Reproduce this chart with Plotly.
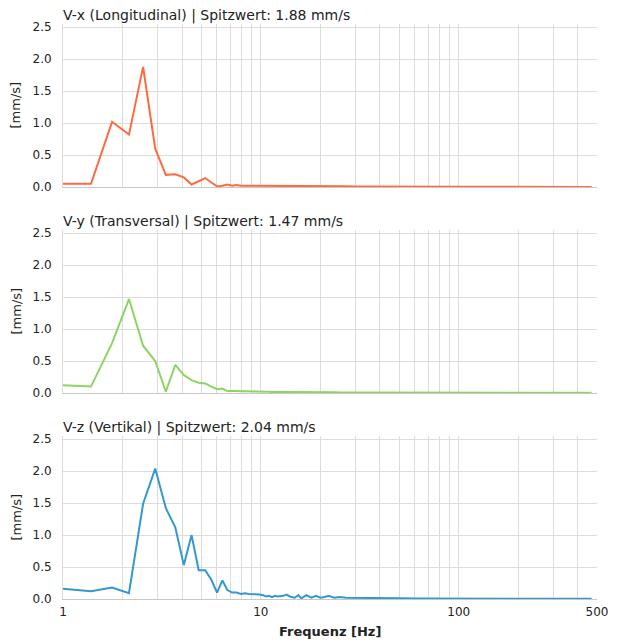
import plotly.graph_objects as go
from plotly.subplots import make_subplots

# Frequency bins [Hz]
freq = [1.0, 1.385, 1.77, 2.155, 2.54, 2.925, 3.31, 3.695, 4.08, 4.465,
        4.85, 5.235, 5.62, 6.005, 6.39, 6.775, 7.16, 7.545, 7.93, 8.315,
        8.7, 9.085, 9.47, 9.855, 10.24, 10.625, 11.01, 11.395, 11.78, 12.165,
        13.0, 13.5, 14.0, 14.8, 15.5, 16.0, 17.0, 18.0, 19.0, 20.0,
        21.0, 22.0, 23.5, 25.0, 27.0, 30.0, 35.0, 40.0, 50.0, 60.0,
        80.0, 100.0, 150.0, 200.0, 300.0, 400.0, 470.0]

vx = [0.05, 0.05, 1.02, 0.82, 1.88, 0.60, 0.19, 0.20, 0.15, 0.04,
      0.09, 0.14, 0.07, 0.01, 0.02, 0.04, 0.02, 0.03, 0.02, 0.02,
      0.02, 0.02, 0.02, 0.02, 0.02, 0.02, 0.015, 0.02, 0.015, 0.015,
      0.02, 0.015, 0.02, 0.015, 0.015, 0.01, 0.015, 0.01, 0.015, 0.02,
      0.01, 0.015, 0.01, 0.01, 0.01, 0.008, 0.006, 0.005, 0.005, 0.004,
      0.004, 0.003, 0.003, 0.003, 0.002, 0.002, 0.002]

vy = [0.12, 0.10, 0.78, 1.47, 0.74, 0.50, 0.02, 0.44, 0.28, 0.20,
      0.16, 0.15, 0.10, 0.06, 0.07, 0.03, 0.03, 0.03, 0.02, 0.03,
      0.02, 0.02, 0.02, 0.03, 0.02, 0.02, 0.02, 0.015, 0.02, 0.015,
      0.015, 0.015, 0.02, 0.015, 0.015, 0.01, 0.015, 0.01, 0.015, 0.01,
      0.01, 0.01, 0.01, 0.008, 0.008, 0.007, 0.006, 0.005, 0.004, 0.004,
      0.003, 0.003, 0.003, 0.002, 0.002, 0.002, 0.002]

vz = [0.16, 0.12, 0.18, 0.09, 1.49, 2.04, 1.42, 1.12, 0.53, 1.00,
      0.45, 0.45, 0.30, 0.10, 0.29, 0.14, 0.10, 0.10, 0.08, 0.09,
      0.08, 0.08, 0.07, 0.07, 0.06, 0.04, 0.05, 0.03, 0.05, 0.04,
      0.05, 0.07, 0.04, 0.02, 0.06, 0.01, 0.06, 0.02, 0.05, 0.02,
      0.03, 0.05, 0.02, 0.03, 0.02, 0.02, 0.015, 0.015, 0.01, 0.008,
      0.006, 0.005, 0.004, 0.003, 0.003, 0.003, 0.003]

names = ["V-x (Longitudinal)", "V-y (Transversal)", "V-z (Vertikal)"]
series = [vx, vy, vz]
colors = ["#FF6B3D", "#8ED462", "#3399CC"]

tick_vals = [1, 2, 3, 4, 5, 6, 7, 8, 9, 10, 20, 30, 40, 50, 60, 70, 80, 90,
             100, 200, 300, 400, 500]
tick_text = ["1" if v == 1 else "10" if v == 10 else "100" if v == 100
             else "500" if v == 500 else "" for v in tick_vals]
y_ticks = [0.0, 0.5, 1.0, 1.5, 2.0, 2.5]

font = "DejaVu Sans"
fig = make_subplots(rows=3, cols=1, shared_xaxes=False, vertical_spacing=0.0)

domains = [[0.7165, 1.0], [0.3583, 0.6417], [0.0, 0.2835]]

for i, (nm, vals, col) in enumerate(zip(names, series, colors)):
    r = i + 1
    sfx = '' if r == 1 else str(r)
    fig.add_trace(go.Scatter(x=freq, y=vals, mode="lines",
                             line=dict(color=col, width=2), showlegend=False),
                  row=r, col=1)
    fig.add_annotation(text=f"{nm} | Spitzwert: {max(vals):.2f} mm/s",
                       xref=f"x{sfx} domain", yref=f"y{sfx} domain",
                       x=0, y=1, xanchor="left", yanchor="bottom",
                       xshift=-1, yshift=-1, borderpad=0, showarrow=False,
                       font=dict(family=font, size=14, color="#222"))
    fig.add_annotation(text="[mm/s]", textangle=-90,
                       xref="paper", yref=f"y{sfx} domain",
                       x=0, y=0.5, xanchor="center", yanchor="middle",
                       xshift=-47, showarrow=False,
                       font=dict(family=font, size=13, color="#222"))
    fig.update_xaxes(type="log", range=[0, 2.69897], tickvals=tick_vals,
                     ticktext=tick_text if r == 3 else [""] * len(tick_vals),
                     showgrid=True, gridcolor="#dcdcdc", gridwidth=1,
                     showline=True, linecolor="#c8c8c8", linewidth=1,
                     ticks="", zeroline=False, ticklabelstandoff=2,
                     automargin=False,
                     tickfont=dict(family=font, size=12, color="#222"),
                     row=r, col=1)
    fig.update_yaxes(range=[0, 2.55], tickvals=y_ticks,
                     ticktext=[f"{v:.1f}" for v in y_ticks],
                     domain=domains[i],
                     showgrid=True, gridcolor="#dcdcdc", gridwidth=1,
                     showline=True, linecolor="#dcdcdc", linewidth=1,
                     ticks="", zeroline=False, ticklabelstandoff=8,
                     automargin=False,
                     tickfont=dict(family=font, size=12, color="#222"),
                     row=r, col=1)

fig.add_annotation(text="<b>Frequenz [Hz]</b>", xref="paper", yref="paper",
                   x=0.5, y=0, xanchor="center", yanchor="middle",
                   yshift=-32, showarrow=False,
                   font=dict(family=font, size=13, color="#222"))

fig.update_layout(width=605, height=634,
                  margin=dict(l=55, r=16, t=16, b=43),
                  plot_bgcolor="white", paper_bgcolor="white",
                  font=dict(family=font, size=12, color="#222"))

fig.write_html("out.html")
